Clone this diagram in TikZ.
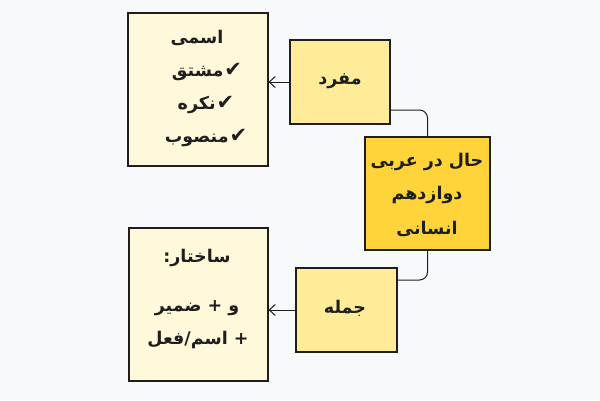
\documentclass[tikz,border=0pt]{standalone}
\usepackage{fontspec}
\setmainfont{DejaVu Sans}
\newfontfamily\arabicfont[Script=Arabic]{DejaVu Sans}
\TeXXeTstate=1
\usetikzlibrary{arrows.meta}
\definecolor{bgc}{HTML}{F8F9FB}
\definecolor{inkc}{HTML}{1E1E1E}
\definecolor{paleY}{HTML}{FFF9DB}
\definecolor{midY}{HTML}{FFEC99}
\definecolor{deepY}{HTML}{FFD43B}
\newcommand\artext[1]{{\arabicfont\beginR #1\endR}}
\newcommand\chk{\kern1pt{\fontsize{21}{21}\selectfont ✔}}
\tikzset{
  boxnode/.style={draw=inkc, line width=1.1pt, inner sep=0pt},
  txt/.style={font=\bfseries\fontsize{17.5}{21}\selectfont, text=inkc, inner sep=0pt},
  link/.style={draw=inkc, line width=1pt},
  arr/.style={link, -{Straight Barb[length=6pt,width=11pt]}}
}
\begin{document}
\begin{tikzpicture}[x=1pt,y=-1pt]
\useasboundingbox[fill=bgc] (0,0) rectangle (600,400);
% boxes
\node[boxnode, fill=paleY, minimum width=140pt, minimum height=153pt] (ism) at (198,89.5) {};
\node[boxnode, fill=midY, minimum width=100pt, minimum height=84pt] (mufrad) at (340,82) {};
\node[boxnode, fill=deepY, minimum width=125pt, minimum height=113pt] (hal) at (427.5,193.5) {};
\node[boxnode, fill=paleY, minimum width=139pt, minimum height=153pt] (sakht) at (198.5,304.5) {};
\node[boxnode, fill=midY, minimum width=101pt, minimum height=84pt] (jomle) at (346.5,310) {};
% texts
\node[txt] (t1) at (197,38) {\artext{اسمی}};
\node[txt] (t2) at (207,72) {\artext{مشتق}\chk};
\node[txt] (t3) at (206,105) {\artext{نکره}\chk};
\node[txt] (t4) at (206,138) {\artext{منصوب}\chk};
\node[txt] (t5) at (340,81) {\artext{مفرد}};
\node[txt] (t6) at (427,162) {\artext{عربی} \artext{در} \artext{حال}};
\node[txt] (t7) at (427,195) {\artext{دوازدهم}};
\node[txt] (t8) at (427,229) {\artext{انسانی}};
\node[txt] (t9) at (345,308) {\artext{جمله}};
\node[txt] (t10) at (197,258) {:\artext{ساختار}};
\node[txt] (t11) at (197,308) {\artext{ضمیر} + \artext{و}};
\node[txt] (t12) at (198,340) {\artext{فعل}/\artext{اسم} +};
% connectors
\draw[link, rounded corners=8pt] ([yshift=-28pt]mufrad.east) -| (hal.north);
\draw[link, rounded corners=8pt] (hal.south) |- ([yshift=30pt]jomle.east);
\draw[arr] (mufrad.west) -- (mufrad.west -| ism.east);
\draw[arr] (jomle.west) -- (jomle.west -| sakht.east);
\end{tikzpicture}
\end{document}
